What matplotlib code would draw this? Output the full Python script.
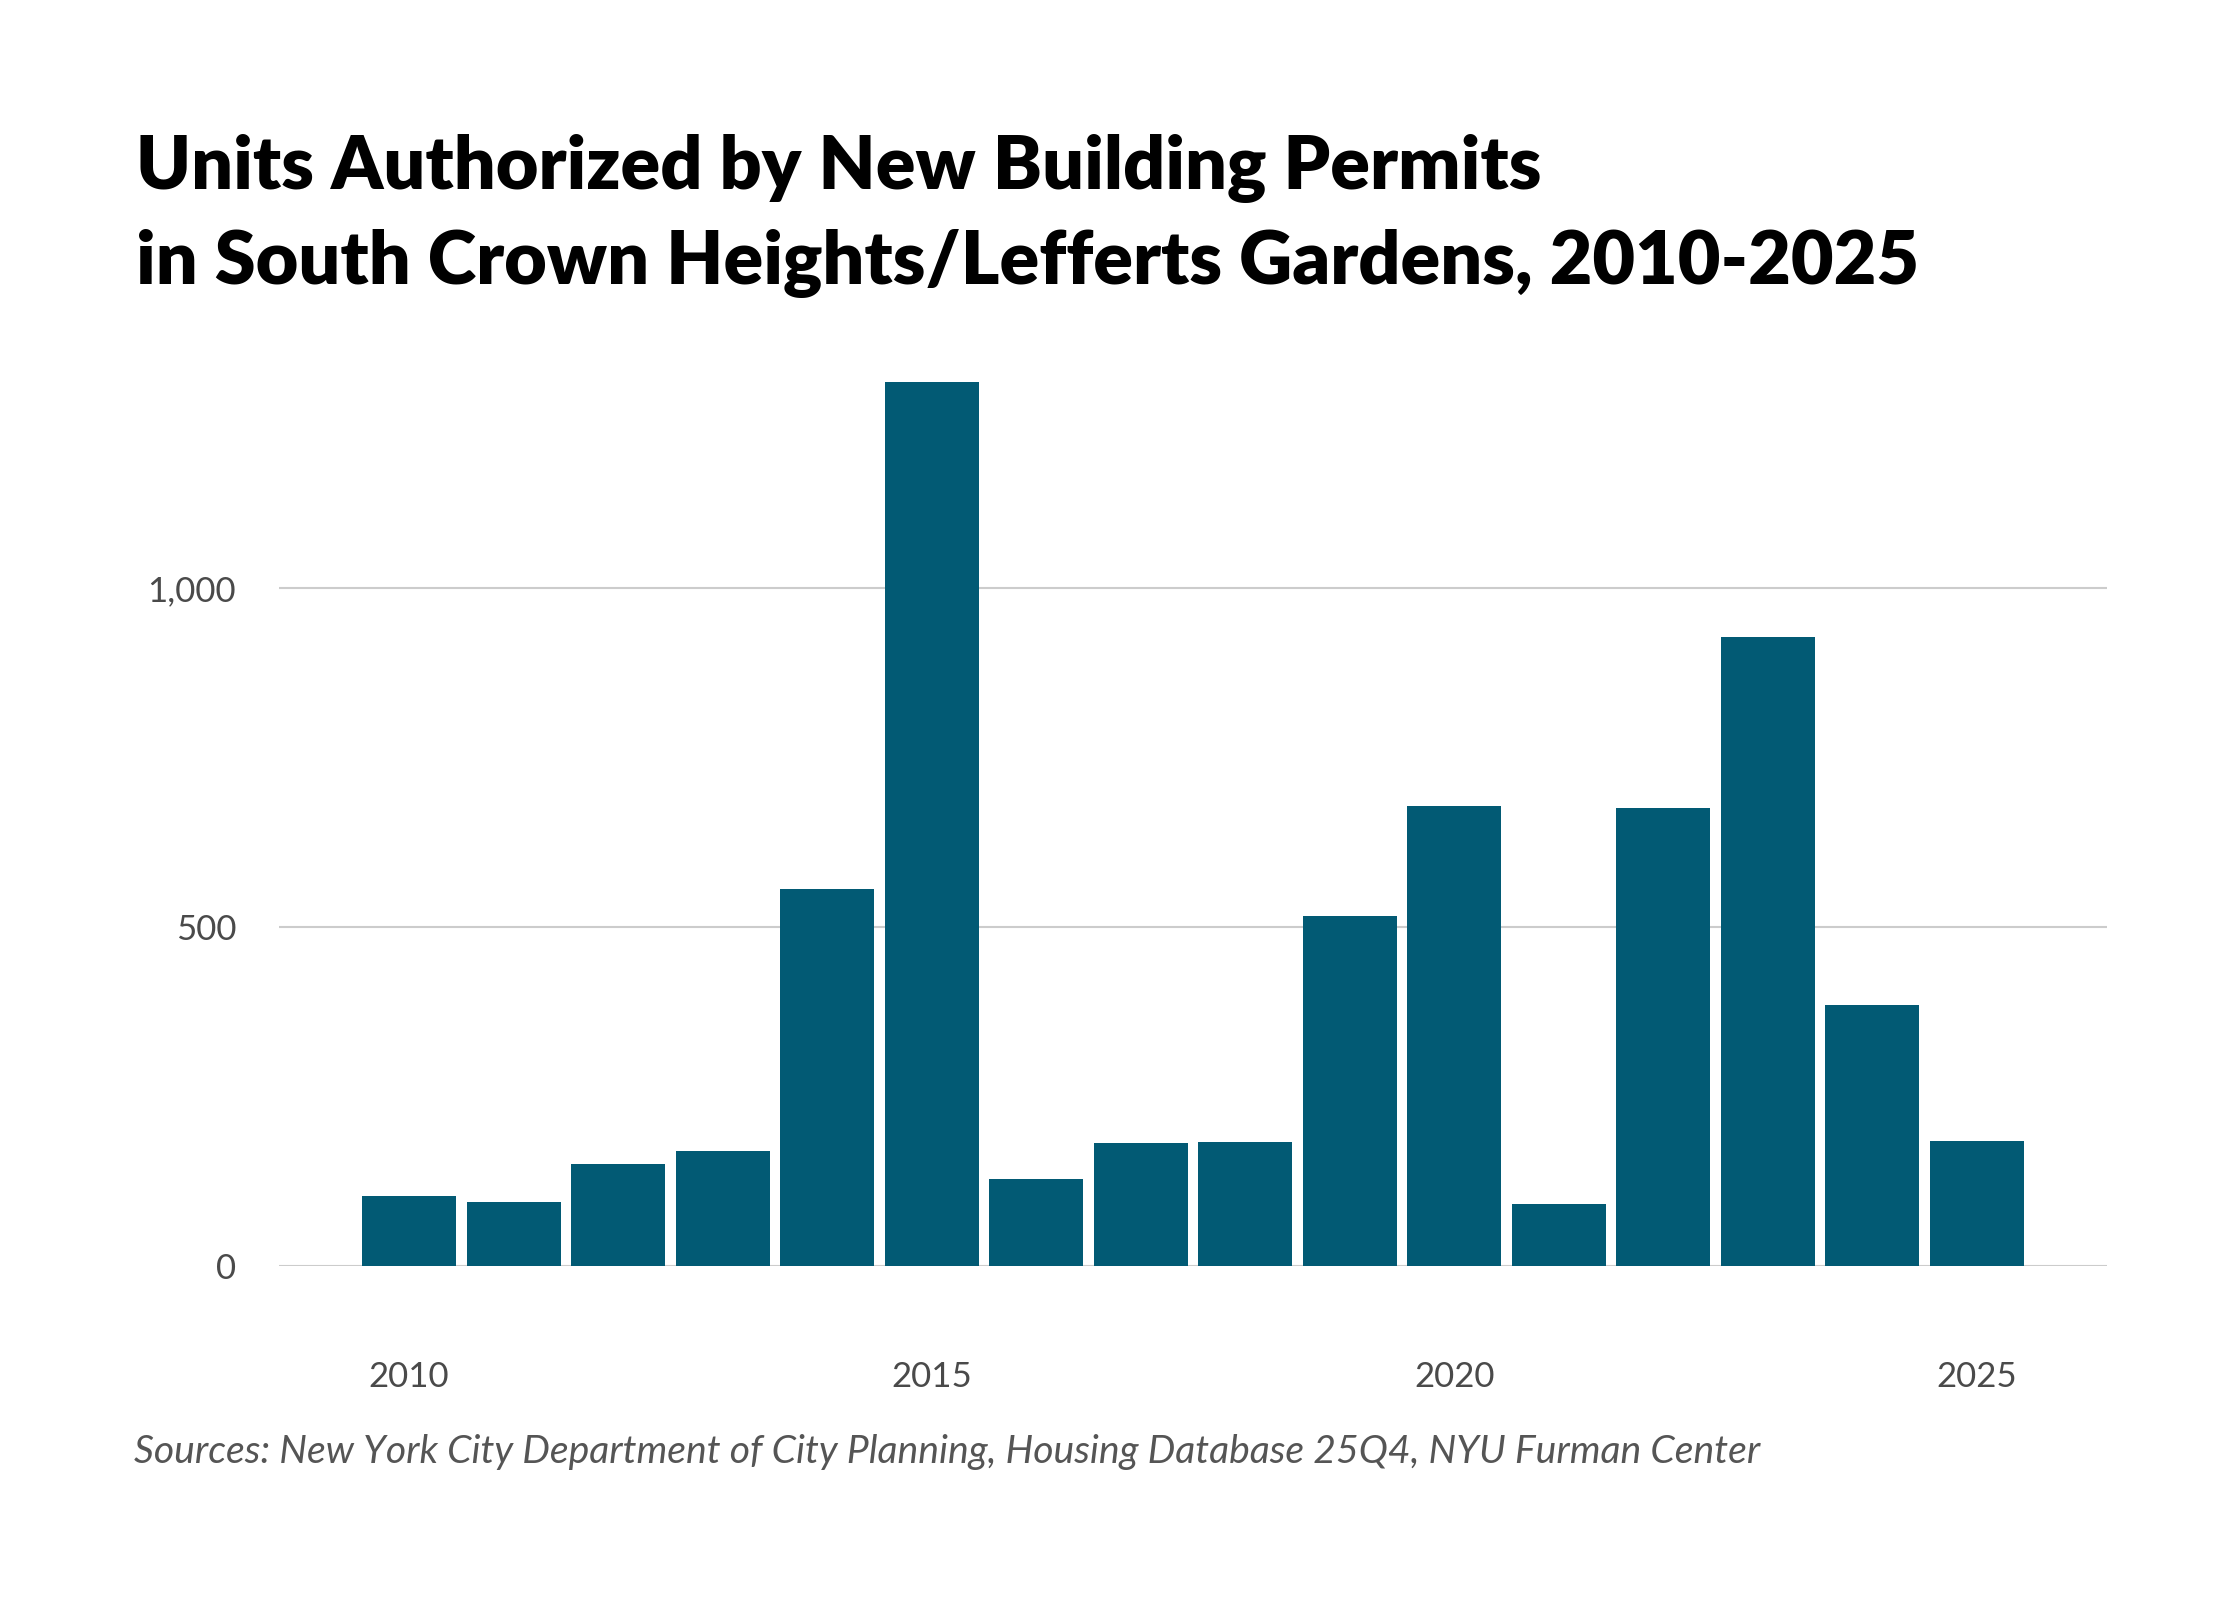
import matplotlib
matplotlib.use("Agg")
import matplotlib.pyplot as plt
from matplotlib.ticker import FuncFormatter

# data
years = list(range(2010, 2026))
units = [103, 94, 150, 169, 556, 1303, 129, 181, 183, 516, 678, 91, 676, 928, 385, 185]
yticks = [0, 500, 1000]
xticks = [2010, 2015, 2020, 2025]

title_1 = "Units Authorized by New Building Permits"
title_2 = "in South Crown Heights/Lefferts Gardens, 2010-2025"
source = "Sources: New York City Department of City Planning, Housing Database 25Q4, NYU Furman Center"

bar_color = "#025a74"
grid_color = "#cccccc"
tick_color = "#4a4a4a"

plt.rcParams["font.family"] = ["Lato", "DejaVu Sans"]

fig = plt.figure(figsize=(22.4, 16), dpi=100)
ax = fig.add_axes([0.1246, 0.20875, 0.816, 0.5933])

ax.bar(years, units, width=0.9, color=bar_color, zorder=2)

ax.set_xlim(2008.756, 2026.244)
ax.set_ylim(0, 1400)
ax.set_yticks(yticks)
ax.set_xticks(xticks)
ax.yaxis.set_major_formatter(FuncFormatter(lambda v, p: f"{int(v):,}"))
ax.grid(axis="y", color=grid_color, linewidth=1.5, zorder=0)
for s in ax.spines.values():
    s.set_visible(False)
ax.tick_params(axis="both", length=0, labelsize=25, labelcolor=tick_color)
ax.tick_params(axis="x", pad=68.5)
ax.tick_params(axis="y", pad=31)

# title lines placed separately so each baseline sits where the reference has it
fig.text(0.0605, 0.8819, title_1, fontsize=53, fontweight="heavy", color="black",
         va="baseline", ha="left")
fig.text(0.0605, 0.8225, title_2, fontsize=53, fontweight="heavy", color="black",
         va="baseline", ha="left")
fig.text(0.0598, 0.0856, source, fontsize=28.2, style="italic", color="#555555",
         va="baseline", ha="left")

fig.savefig("out.png", dpi=100, facecolor="white")
